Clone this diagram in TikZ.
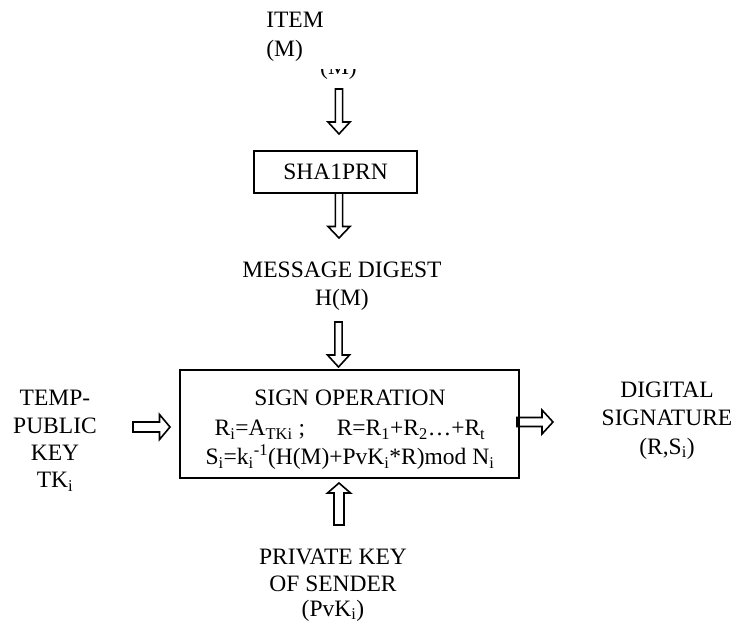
\documentclass[tikz,border=0pt]{standalone}
\usepackage{fontspec}
\setmainfont{Liberation Serif}
\usetikzlibrary{calc}

\tikzset{
  lbl/.style={inner sep=0pt, font=\fontsize{23.5}{27}\selectfont, anchor=base},
  boxline/.style={draw, line width=2.2pt, inner sep=0pt, font=\fontsize{23.5}{27}\selectfont},
  blockarrow/.style={draw, line width=1.6pt, line join=miter, fill=white},
}

% hollow block arrow: tail, tip, shaft half-width, head half-width, head length
\newcommand\hollowarrow[5]{%
  \path ($(#2)!#5!(#1)$) coordinate (hb);
  \draw[blockarrow]
    ($(#1)!#3!90:(#2)$) -- ($(hb)!#3!90:(#2)$) -- ($(hb)!#4!90:(#2)$) -- (#2)
    -- ($(hb)!#4!-90:(#2)$) -- ($(hb)!#3!-90:(#2)$) -- ($(#1)!#3!-90:(#2)$) -- cycle;
}

\begin{document}
\begin{tikzpicture}[x=1pt, y=-1pt]
  \useasboundingbox (0,0) rectangle (737,623);

  % input item
  \node[lbl] (item1) at (295,28) {ITEM};
  \node[lbl, anchor=base west] (item2) at (item1.base west |- 0,57) {(M)};
  \begin{scope}
    \clip (300,70) rectangle (380,82);
    \node[lbl] (itemcut) at (338.5,75) {(M)};
  \end{scope}

  % arrow anchor points
  \coordinate (a1t) at (339,89);   \coordinate (a1h) at (339,134);
  \coordinate (a2t) at (339,193);  \coordinate (a2h) at (339,238);
  \coordinate (a3t) at (338.5,322);\coordinate (a3h) at (338.5,367);
  \coordinate (a4t) at (133,427);  \coordinate (a4h) at (170,427);
  \coordinate (a5t) at (517,422);  \coordinate (a5h) at (553,422);
  \coordinate (a6t) at (339,525);  \coordinate (a6h) at (339,483);

  \hollowarrow{a1t}{a1h}{3.6pt}{11pt}{12pt}
  \hollowarrow{a2t}{a2h}{3.6pt}{11pt}{11.5pt}
  \hollowarrow{a3t}{a3h}{3.6pt}{11pt}{12pt}
  \hollowarrow{a4t}{a4h}{5pt}{12.5pt}{10.5pt}
  \hollowarrow{a5t}{a5h}{4.5pt}{12pt}{11pt}
  \hollowarrow{a6t}{a6h}{5pt}{11.5pt}{10pt}

  % hashing block
  \node[boxline, minimum width=163pt, minimum height=42pt] (sha) at (335.5,172) {SHA1PRN};

  % digest
  \node[lbl] (md1) at (342,277.5) {MESSAGE DIGEST};
  \node[lbl] (md2) at (342,305.5) {H(M)};

  % signing block
  \node[boxline, minimum width=339pt, minimum height=108pt] (sign) at (349.5,424) {};
  \node[lbl] (sg1) at (350,405.5) {SIGN OPERATION};
  \node[lbl] (sg2) at (350,435.5) {R\textsubscript{i}=A\textsubscript{TKi} ;\hspace{1.1em} R=R\textsubscript{1}+R\textsubscript{2}…+R\textsubscript{t}};
  \node[lbl] (sg3) at (350,464.5) {S\textsubscript{i}=k\textsubscript{i}\textsuperscript{-1}(H(M)+PvK\textsubscript{i}*R)mod N\textsubscript{i}};

  % temporary public key
  \node[lbl] (tk1) at (55,405.5) {TEMP-};
  \node[lbl] (tk2) at (55,433.5) {PUBLIC};
  \node[lbl] (tk3) at (55,460.5) {KEY};
  \node[lbl] (tk4) at (55,487.5) {TK\textsubscript{i}};

  % output
  \node[lbl] (ds1) at (667,397.5) {DIGITAL};
  \node[lbl] (ds2) at (667,425.5) {SIGNATURE};
  \node[lbl] (ds3) at (667,454) {(R,S\textsubscript{i})};

  % private key
  \node[lbl] (pk1) at (333,564) {PRIVATE KEY};
  \node[lbl] (pk2) at (333,591.5) {OF SENDER};
  \node[lbl] (pk3) at (333,616) {(PvK\textsubscript{i})};
\end{tikzpicture}
\end{document}
